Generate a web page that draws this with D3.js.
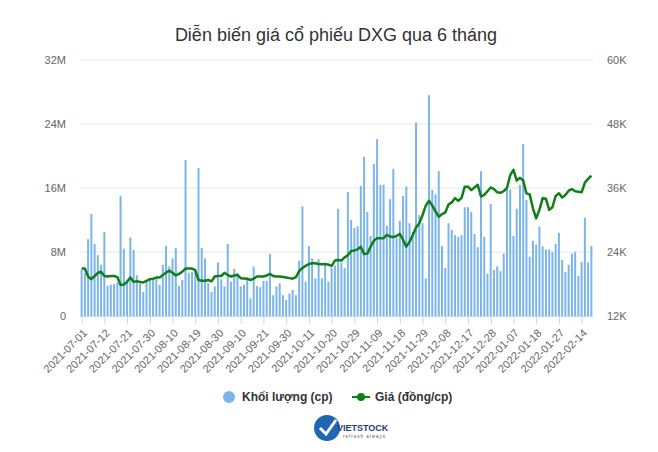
<!DOCTYPE html>
<html>
<head>
<meta charset="utf-8">
<script src="https://d3js.org/d3.v7.min.js"></script>
<style>
  body { margin: 0; background: #fff; }
  svg { font-family: "Liberation Sans", Arial, sans-serif; }
  .grid line { stroke: #e6e6e6; }
  .axis text { fill: #666; font-size: 11px; }
</style>
</head>
<body>
<div id="chart"></div>
<script>
// daily volume (millions of shares), one per trading day from 2021-07-01
const volume = [
  5.8, 5.4, 9.6, 12.75, 9.0, 7.6, 6.4, 10.5, 3.75, 3.9,
  4.0, 4.2, 15.0, 8.4, 4.5, 9.8, 8.25, 5.1, 4.1, 3.0,
  4.3, 4.5, 4.7, 4.9, 3.9, 6.4, 8.75, 6.2, 7.2, 8.5,
  3.75, 4.5, 19.5, 5.4, 5.5, 5.6, 18.5, 8.5, 7.2, 4.1,
  3.0, 3.7, 6.7, 4.6, 3.7, 9.0, 4.3, 5.9, 5.4, 3.7,
  3.9, 4.5, 2.2, 6.2, 3.75, 3.6, 4.4, 4.4, 7.75, 2.6,
  3.7, 4.1, 2.6, 2.0, 2.8, 3.25, 2.6, 6.9, 13.7, 4.3,
  8.75, 7.2, 4.7, 7.1, 4.7, 6.7, 4.3, 6.0, 6.3, 13.4,
  6.7, 6.0, 15.5, 12.0, 11.0, 11.2, 16.25, 19.9, 13.0, 10.0,
  19.0, 22.1, 16.4, 16.4, 11.3, 14.6, 18.4, 9.8, 11.9, 15.0,
  16.2, 11.6, 10.5, 24.2, 12.6, 11.6, 4.7, 27.6, 15.75, 15.2,
  18.1, 8.75, 6.0, 11.6, 10.75, 10.1, 9.9, 10.1, 13.6, 13.6,
  13.0, 10.25, 8.6, 18.1, 9.9, 5.3, 14.0, 5.75, 6.2, 5.6,
  7.8, 15.75, 15.8, 10.0, 13.4, 16.4, 21.5, 14.5, 7.4, 9.4,
  8.9, 11.2, 8.7, 8.3, 8.3, 8.0, 9.0, 10.4, 7.0, 5.5,
  6.4, 7.8, 8.0, 5.0, 6.75, 12.3, 6.7, 8.75
];

// closing price (thousand dong)
const price = [
  20.9, 20.9, 19.4, 18.9, 19.5, 20.1, 20.3, 19.5, 19.4, 19.5,
  19.5, 19.3, 17.8, 17.9, 18.4, 19.2, 18.4, 18.5, 18.4, 18.3,
  18.6, 18.9, 19.0, 19.2, 19.2, 19.7, 20.1, 20.5, 20.1, 19.6,
  19.9, 20.3, 20.9, 20.9, 20.9, 20.6, 18.75, 18.6, 18.6, 18.75,
  18.5, 19.4, 19.5, 19.5, 20.1, 19.7, 19.4, 19.6, 19.7, 19.1,
  19.05, 19.0, 18.75, 19.0, 19.4, 19.4, 19.4, 19.6, 19.9, 19.5,
  19.4, 19.4, 19.3, 19.2, 19.1, 19.0, 19.3, 20.4, 21.0, 21.4,
  21.75, 21.9, 21.9, 21.75, 21.7, 21.7, 21.65, 21.4, 22.4, 22.5,
  22.4, 23.0, 23.4, 24.2, 24.3, 24.5, 25.0, 23.6, 23.7, 25.0,
  26.1, 26.6, 26.6, 26.6, 27.2, 26.9, 26.8, 27.0, 27.4, 26.3,
  25.0, 25.9, 27.2, 28.6, 29.4, 30.9, 32.7, 33.6, 32.7, 31.6,
  30.6, 31.1, 31.4, 32.9, 33.3, 34.1, 33.6, 34.1, 36.25, 36.25,
  35.6, 36.1, 36.6, 34.4, 34.7, 35.4, 36.1, 35.8, 35.2, 35.1,
  35.4, 36.0, 38.4, 39.4, 37.4, 37.9, 37.4, 35.0, 34.8, 32.2,
  30.3, 31.9, 34.1, 34.0, 31.9, 32.4, 34.5, 35.0, 34.2, 34.7,
  35.5, 35.8, 35.4, 35.3, 35.2, 37.0, 37.7, 38.3
];

// x-axis labels, one every 7 trading days
const tickLabels = [
  "2021-07-01", "2021-07-12", "2021-07-21", "2021-07-30", "2021-08-10",
  "2021-08-19", "2021-08-30", "2021-09-10", "2021-09-21", "2021-09-30",
  "2021-10-11", "2021-10-20", "2021-10-29", "2021-11-09", "2021-11-18",
  "2021-11-29", "2021-12-08", "2021-12-17", "2021-12-28", "2022-01-07",
  "2022-01-18", "2022-01-27", "2022-02-14"
];
const tickStep = 7;

const volTicks = [0, 8, 16, 24, 32];
const priceTicks = [12, 24, 36, 48, 60];

const W = 658, H = 452;
const plotL = 80, plotR = 593, plotT = 60, plotB = 316;

const svg = d3.select("#chart").append("svg")
  .attr("width", W)
  .attr("height", H);

const x = d3.scaleLinear().domain([-0.5, volume.length - 0.5]).range([plotL, plotR]);
const yVol = d3.scaleLinear().domain([0, 32]).range([plotB, plotT]);
const yPrice = d3.scaleLinear().domain([12, 60]).range([plotB, plotT]);

// title
svg.append("text")
  .attr("x", 336)
  .attr("y", 41)
  .attr("text-anchor", "middle")
  .attr("fill", "#333")
  .style("font-size", "18px")
  .text("Diễn biến giá cổ phiếu DXG qua 6 tháng");

// gridlines
svg.append("g").attr("class", "grid")
  .selectAll("line")
  .data(volTicks.filter(d => d > 0))
  .join("line")
  .attr("x1", plotL).attr("x2", plotR)
  .attr("y1", d => yVol(d)).attr("y2", d => yVol(d));

// left axis (volume)
svg.append("g").attr("class", "axis")
  .attr("transform", `translate(${plotL - 14},0)`)
  .call(d3.axisLeft(yVol).tickValues(volTicks).tickSize(0).tickPadding(0)
    .tickFormat(d => d === 0 ? "0" : d + "M"))
  .call(g => g.select(".domain").remove());

// right axis (price)
svg.append("g").attr("class", "axis")
  .attr("transform", `translate(${plotR + 14},0)`)
  .call(d3.axisRight(yPrice).tickValues(priceTicks).tickSize(0).tickPadding(0)
    .tickFormat(d => d + "K"))
  .call(g => g.select(".domain").remove());

// bars
const barW = 2;
svg.append("g")
  .selectAll("rect")
  .data(volume)
  .join("rect")
  .attr("x", (d, i) => x(i) - barW / 2)
  .attr("y", d => yVol(d))
  .attr("width", barW)
  .attr("height", d => plotB - yVol(d))
  .attr("fill", "#7cb5ec");

// x axis
const tickIdx = tickLabels.map((d, i) => i * tickStep);
const xAxis = svg.append("g").attr("class", "axis")
  .attr("transform", `translate(0,${plotB})`)
  .call(d3.axisBottom(x).tickValues(tickIdx).tickSize(8).tickSizeOuter(0)
    .tickFormat((d, i) => tickLabels[i]));
xAxis.select(".domain").attr("stroke", "#ccd6eb").attr("d", `M${plotL},0.5H${plotR}`);
xAxis.selectAll(".tick line").attr("stroke", "#ccd6eb");
xAxis.selectAll(".tick text")
  .attr("text-anchor", "end")
  .attr("dy", "0.35em")
  .attr("transform", "translate(3,15) rotate(-45)")
  .attr("y", 0);

// price line
const line = d3.line()
  .x((d, i) => x(i))
  .y(d => yPrice(d))
  .curve(d3.curveLinear);
svg.append("path")
  .datum(price)
  .attr("fill", "none")
  .attr("stroke", "#0f7f16")
  .attr("stroke-width", 2.5)
  .attr("stroke-linejoin", "round")
  .attr("d", line);

// legend
const lg = svg.append("g").style("font-size", "12px").style("font-weight", "bold").attr("fill", "#333");
lg.append("circle").attr("cx", 229).attr("cy", 397).attr("r", 6).attr("fill", "#7cb5ec");
lg.append("text").attr("x", 242).attr("y", 401).text("Khối lượng (cp)");
lg.append("line").attr("x1", 352).attr("x2", 370).attr("y1", 397).attr("y2", 397)
  .attr("stroke", "#0f7f16").attr("stroke-width", 2);
lg.append("circle").attr("cx", 361).attr("cy", 397).attr("r", 4).attr("fill", "#0f7f16");
lg.append("text").attr("x", 375).attr("y", 401).text("Giá (đồng/cp)");

// logo
const logo = svg.append("g");
logo.append("circle").attr("cx", 327).attr("cy", 428).attr("r", 13).attr("fill", "#1f66b3");
logo.append("path").attr("d", "M320,428 l6,6 l10,-14").attr("fill", "none")
  .attr("stroke", "#fff").attr("stroke-width", 3);
logo.append("text").attr("x", 337).attr("y", 431)
  .style("font-size", "9px").style("font-weight", "bold").attr("fill", "#1d3e7e")
  .text("VIETSTOCK");
logo.append("text").attr("x", 343).attr("y", 438)
  .style("font-size", "4.5px").attr("fill", "#555").attr("letter-spacing", "1")
  .text("refresh always");
</script>
</body>
</html>
